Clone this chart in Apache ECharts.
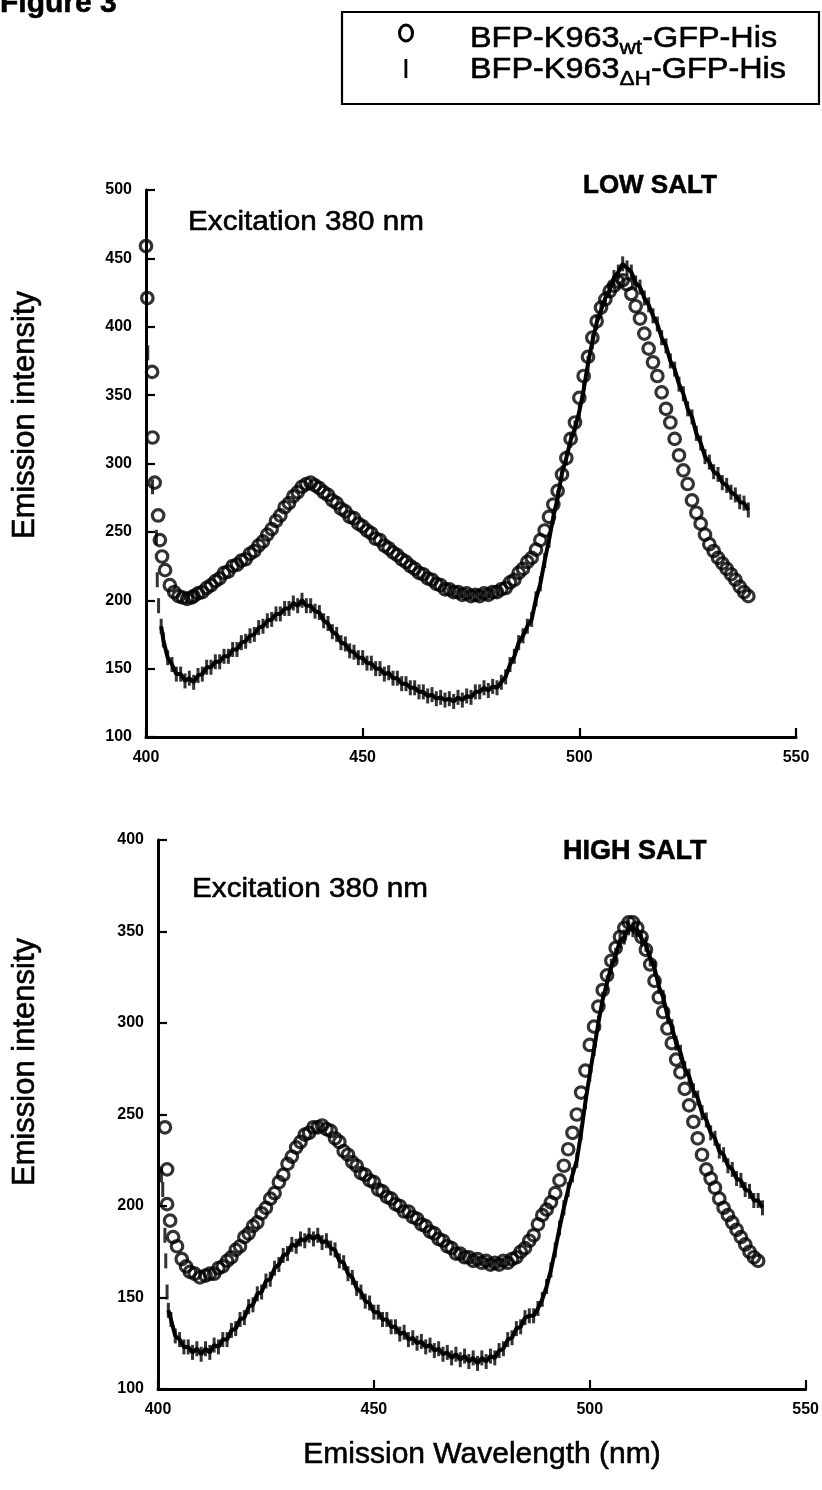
<!DOCTYPE html>
<html>
<head>
<meta charset="utf-8">
<script src="https://cdn.jsdelivr.net/npm/echarts@6/dist/echarts.min.js"></script>
<style>
  html, body { margin: 0; padding: 0; background: #fff; }
  #chart { width: 822px; height: 1490px; }
</style>
</head>
<body>
<div id="chart"></div>
<script>
// Emission spectra, excitation 380 nm. Points are [wavelength nm, intensity].
const xRange = [400, 550];
const lowSaltRange = [100, 500];
const highSaltRange = [100, 400];
const tickStep = 50;

const nameWt = 'BFP-K963wt-GFP-His';
const nameDH = 'BFP-K963ΔH-GFP-His';

// LOW SALT, wild type (circles)
const lowWt = [
  [400.0,459],[400.3,421],[401.4,367],[401.5,319],[402.0,286],[402.8,262],[403.2,244],[403.7,232],
  [404.4,222],[405.5,211],[406.5,206],[407.5,203],[408.5,202],[409.5,201],[410.5,202],
  [411,203],[412,205],[413,206],[414,209],[415,211],[416,214],[417,216],[418,220],[419,221],[420,225],
  [421,226],[422,229],[423,230],[424,234],[425,236],[426,240],[427,243],[428,248],[429,252],[430,258],
  [431,262],[432,268],[433,271],[434,276],[435,279],[436,283],[437,285],[438,286],[439,284],[440,282],
  [441,279],[442,277],[443,273],[444,271],[445,267],[446,265],[447,261],[448,260],[449,256],[450,254],
  [451,251],[452,249],[453,245],[454,244],[455,240],[456,238],[457,235],[458,233],[459,230],[460,228],
  [461,225],[462,223],[463,220],[464,219],[465,216],[466,215],[467,212],[468,211],[469,208],[470,208],
  [471,206],[472,206],[473,204],[474,205],[475,203],[476,204],[477,203],[478,205],[479,204],[480,206],
  [481,206],[482,208],[483,209],[484,213],[485,215],[486,220],[487,223],[488,228],[489,231],[490,237],
  [491,244],[492,251],[493,261],[494,270],[495,280],[496,292],[497,304],[498,318],[499,330],[500,348],
  [501,364],[502,378],[503,392],[504,404],[505,414],[506,420],[507,426],[508,430],[509,433],[510,434],
  [511,431],[512,424],[513,415],[514,406],[515,395],[516,384],[517,374],[518,364],[519,352],[520,340],
  [521,330],[522,318],[523,306],[524,295],[525,285],[526,273],[527,264],[528,256],[529,248],[530,241],
  [531,236],[532,231],[533,227],[534,223],[535,219],[536,215],[537,210],[538,206],[539,203]
];

// LOW SALT, ΔH mutant (vertical bars)
const lowDH = [
  [400.4,381],[401.5,283],[402.4,246],[402.6,215],[402.9,196],
  [403.5,181],[404,171],[405,158],[406,153],[407,146],[408,146],[409,141],[410,143],[411,140],[412,145],
  [413,146],[414,151],[415,151],[416,155],[417,155],[418,159],[419,159],[420,164],[421,164],[422,169],
  [423,170],[424,174],[425,175],[426,180],[427,181],[428,185],[429,186],[430,190],[431,190],[432,194],
  [433,194],[434,198],[435,196],[436,200],[437,196],[438,196],[439,192],[440,191],[441,185],[442,183],
  [443,177],[444,175],[445,169],[446,168],[447,163],[448,162],[449,158],[450,158],[451,154],[452,154],
  [453,150],[454,150],[455,146],[456,147],[457,143],[458,143],[459,139],[460,139],[461,136],[462,136],
  [463,133],[464,133],[465,130],[466,131],[467,128],[468,129],[469,127],[470,128],[471,126],[472,129],
  [473,127],[474,130],[475,129],[476,133],[477,133],[478,136],[479,134],[480,137],[481,136],[482,140],
  [483,144],[484,153],[485,159],[486,169],[487,174],[488,181],[489,186],[490,201],[491,212],[492,229],
  [493,244],[494,261],[495,275],[496,293],[497,304],[498,317],[499,326],[500,338],[501,354],[502,373],
  [503,389],[504,403],[505,412],[506,421],[507,427],[508,436],[509,440],[510,446],[511,443],[512,440],
  [513,432],[514,429],[515,421],[516,416],[517,408],[518,402],[519,392],[520,386],[521,375],[522,369],
  [523,358],[524,351],[525,340],[526,334],[527,322],[528,315],[529,305],[530,301],[531,294],[532,292],
  [533,286],[534,284],[535,279],[536,277],[537,272],[538,271],[539,266]
];

// HIGH SALT, wild type (circles)
const highWt = [
  [401.6,243],[402.1,220],[402.1,201],[402.8,192],[403.5,183],[404.4,178],[405.5,171],[406.5,167],
  [407.4,164],[408.5,163],[409.7,161],
  [411,162],[412,163],[413,163],[414,166],[415,167],[416,170],[417,172],[418,176],[419,178],[420,183],
  [421,185],[422,189],[423,191],[424,196],[425,199],[426,204],[427,207],[428,213],[429,217],[430,223],
  [431,227],[432,232],[433,235],[434,239],[435,240],[436,243],[437,243],[438,244],[439,242],[440,241],
  [441,237],[442,235],[443,230],[444,228],[445,224],[446,222],[447,218],[448,217],[449,214],[450,213],
  [451,209],[452,208],[453,205],[454,204],[455,201],[456,200],[457,197],[458,197],[459,194],[460,193],
  [461,190],[462,189],[463,186],[464,185],[465,182],[466,181],[467,178],[468,177],[469,174],[470,174],
  [471,172],[472,172],[473,170],[474,171],[475,169],[476,170],[477,168],[478,169],[479,168],[480,170],
  [481,169],[482,171],[483,172],[484,175],[485,177],[486,181],[487,184],[488,190],[489,195],[490,198],
  [491,202],[492,207],[493,214],[494,222],[495,231],[496,240],[497,250],[498,262],[499,274],[500,288],
  [501,298],[502,309],[503,318],[504,326],[505,334],[506,341],[507,347],[508,352],[509,355],[510,355],
  [511,352],[512,347],[513,340],[514,332],[515,323],[516,314],[517,306],[518,297],[519,289],[520,280],
  [521,273],[522,264],[523,255],[524,246],[525,237],[526,228],[527,220],[528,215],[529,210],[530,204],
  [531,199],[532,195],[533,191],[534,187],[535,183],[536,179],[537,175],[538,172],[539,170]
];

// HIGH SALT, ΔH mutant (vertical bars)
const highDH = [
  [400.8,217],[401.1,209],[401.6,184],[401.8,170],[402.1,153],
  [402.4,143],[403,138],[404,129],[405,127],[406,123],[407,123],[408,120],[409,122],[410,119],[411,122],
  [412,120],[413,124],[414,123],[415,127],[416,127],[417,132],[418,133],[419,138],[420,139],[421,145],
  [422,146],[423,152],[424,153],[425,159],[426,160],[427,166],[428,168],[429,173],[430,174],[431,179],
  [432,178],[433,182],[434,181],[435,184],[436,182],[437,184],[438,180],[439,181],[440,177],[441,176],
  [442,170],[443,169],[444,163],[445,161],[446,155],[447,153],[448,148],[449,147],[450,142],[451,142],
  [452,138],[453,138],[454,134],[455,134],[456,130],[457,131],[458,127],[459,128],[460,125],[461,126],
  [462,123],[463,124],[464,121],[465,122],[466,119],[467,120],[468,117],[469,119],[470,116],[471,118],
  [472,115],[473,117],[474,114],[475,117],[476,115],[477,118],[478,117],[479,121],[480,122],[481,127],
  [482,128],[483,133],[484,134],[485,139],[486,140],[487,140],[488,144],[489,149],[490,156],[491,165],
  [492,176],[493,188],[494,199],[495,209],[496,217],[497,225],[498,240],[499,257],[500,272],[501,286],
  [502,300],[503,313],[504,322],[505,331],[506,337],[507,345],[508,347],[509,352],[510,351],[511,351],
  [512,346],[513,343],[514,335],[515,330],[516,320],[517,314],[518,304],[519,298],[520,289],[521,284],
  [522,275],[523,271],[524,263],[525,259],[526,251],[527,247],[528,240],[529,237],[530,230],[531,228],
  [532,222],[533,220],[534,215],[535,214],[536,209],[537,208],[538,203],[539,203],[540,199]
];

// The first few ΔH readings sit apart as single bars; the rest form a continuous trace.
const lowDHIsolated = 5;
const highDHIsolated = 5;

const FONT = '"Liberation Sans", Arial, Helvetica, sans-serif';
const BLACK = '#000';

const chart = echarts.init(document.getElementById('chart'), null, { renderer: 'canvas' });

function xAxisFor(gridIndex) {
  return {
    type: 'value', gridIndex, min: xRange[0], max: xRange[1], interval: tickStep,
    axisLine: { show: true, lineStyle: { color: BLACK, width: 3 } },
    axisTick: { show: true, inside: true, length: 9, lineStyle: { color: BLACK, width: 2.2 } },
    axisLabel: { color: BLACK, fontSize: 16, fontWeight: 'bold', fontFamily: FONT, margin: 13 },
    splitLine: { show: false }
  };
}
function yAxisFor(gridIndex, range) {
  return {
    type: 'value', gridIndex, min: range[0], max: range[1], interval: tickStep,
    axisLine: { show: true, lineStyle: { color: BLACK, width: 3 } },
    axisTick: { show: true, inside: true, length: 9, lineStyle: { color: BLACK, width: 2.2 } },
    axisLabel: { color: BLACK, fontSize: 16, fontWeight: 'bold', fontFamily: FONT, margin: 14 },
    splitLine: { show: false }
  };
}

function circles(name, data, idx) {
  return {
    name, type: 'scatter', xAxisIndex: idx, yAxisIndex: idx, data,
    symbol: 'circle', symbolSize: 11.5, z: 3,
    itemStyle: { color: 'rgba(0,0,0,0)', borderColor: BLACK, borderWidth: 3.2 }
  };
}
function bars(name, data, idx) {
  return {
    name, type: 'scatter', xAxisIndex: idx, yAxisIndex: idx, data,
    symbol: 'rect', symbolSize: [3, 15], z: 2,
    itemStyle: { color: BLACK }
  };
}
function trace(name, data, idx) {
  return {
    name, type: 'line', xAxisIndex: idx, yAxisIndex: idx, data,
    showSymbol: false, z: 2,
    lineStyle: { color: BLACK, width: 4 }
  };
}

const sub = { fontSize: 21, fontFamily: FONT, verticalAlign: 'bottom', lineHeight: 15 };

// Plain annotation text; a hairline outline gives the heavier printed stroke.
function txt(x, y, text, font, extra) {
  return Object.assign({ type: 'text', x, y,
    style: Object.assign({ text, font: font + ' ' + FONT, fill: BLACK, verticalAlign: 'middle',
                           stroke: BLACK, lineWidth: 0.6 },
                         (extra && extra.style) || {}) },
    (extra && extra.el) || {});
}

const option = {
  animation: false,
  backgroundColor: '#fff',
  grid: [
    { left: 146, top: 190, width: 650, height: 547 },
    { left: 158, top: 840, width: 650, height: 549 }
  ],
  xAxis: [xAxisFor(0), xAxisFor(1)],
  yAxis: [yAxisFor(0, lowSaltRange), yAxisFor(1, highSaltRange)],
  series: [
    bars(nameDH, lowDH, 0),
    trace(nameDH, lowDH.slice(lowDHIsolated), 0),
    circles(nameWt, lowWt, 0),
    bars(nameDH, highDH, 1),
    trace(nameDH, highDH.slice(highDHIsolated), 1),
    circles(nameWt, highWt, 1)
  ],
  graphic: [
    txt(0, 4, 'Figure 3', 'bold 30px'),
    // key box
    { type: 'rect', shape: { x: 342, y: 12, width: 477, height: 92 },
      style: { fill: 'none', stroke: BLACK, lineWidth: 2.2 } },
    { type: 'ellipse', shape: { cx: 406, cy: 33, rx: 6.5, ry: 8 },
      style: { fill: 'none', stroke: BLACK, lineWidth: 3 } },
    { type: 'rect', shape: { x: 404.5, y: 59, width: 2.8, height: 19 },
      style: { fill: BLACK } },
    txt(470, 39, 'BFP-K963{sub|wt}-GFP-His', '30px',
        { style: { lineHeight: 40, rich: { sub } }, el: { scaleX: 1.08 } }),
    txt(470, 70, 'BFP-K963{sub|ΔH}-GFP-His', '30px',
        { style: { lineHeight: 40, rich: { sub } }, el: { scaleX: 1.08 } }),
    // panel annotations
    txt(583, 186, 'LOW SALT', 'bold 26px'),
    txt(563, 852, 'HIGH SALT', 'bold 27px'),
    txt(188, 222, 'Excitation 380 nm', '28px', { el: { scaleX: 1.06 } }),
    txt(192, 889, 'Excitation 380 nm', '28px', { el: { scaleX: 1.06 } }),
    // axis titles
    txt(25, 415, 'Emission intensity', '31px', { style: { align: 'center' }, el: { rotation: Math.PI / 2 } }),
    txt(25, 1062, 'Emission intensity', '31px', { style: { align: 'center' }, el: { rotation: Math.PI / 2 } }),
    txt(482, 1455, 'Emission Wavelength (nm)', '30px', { style: { align: 'center' } })
  ]
};

chart.setOption(option);
</script>
</body>
</html>
